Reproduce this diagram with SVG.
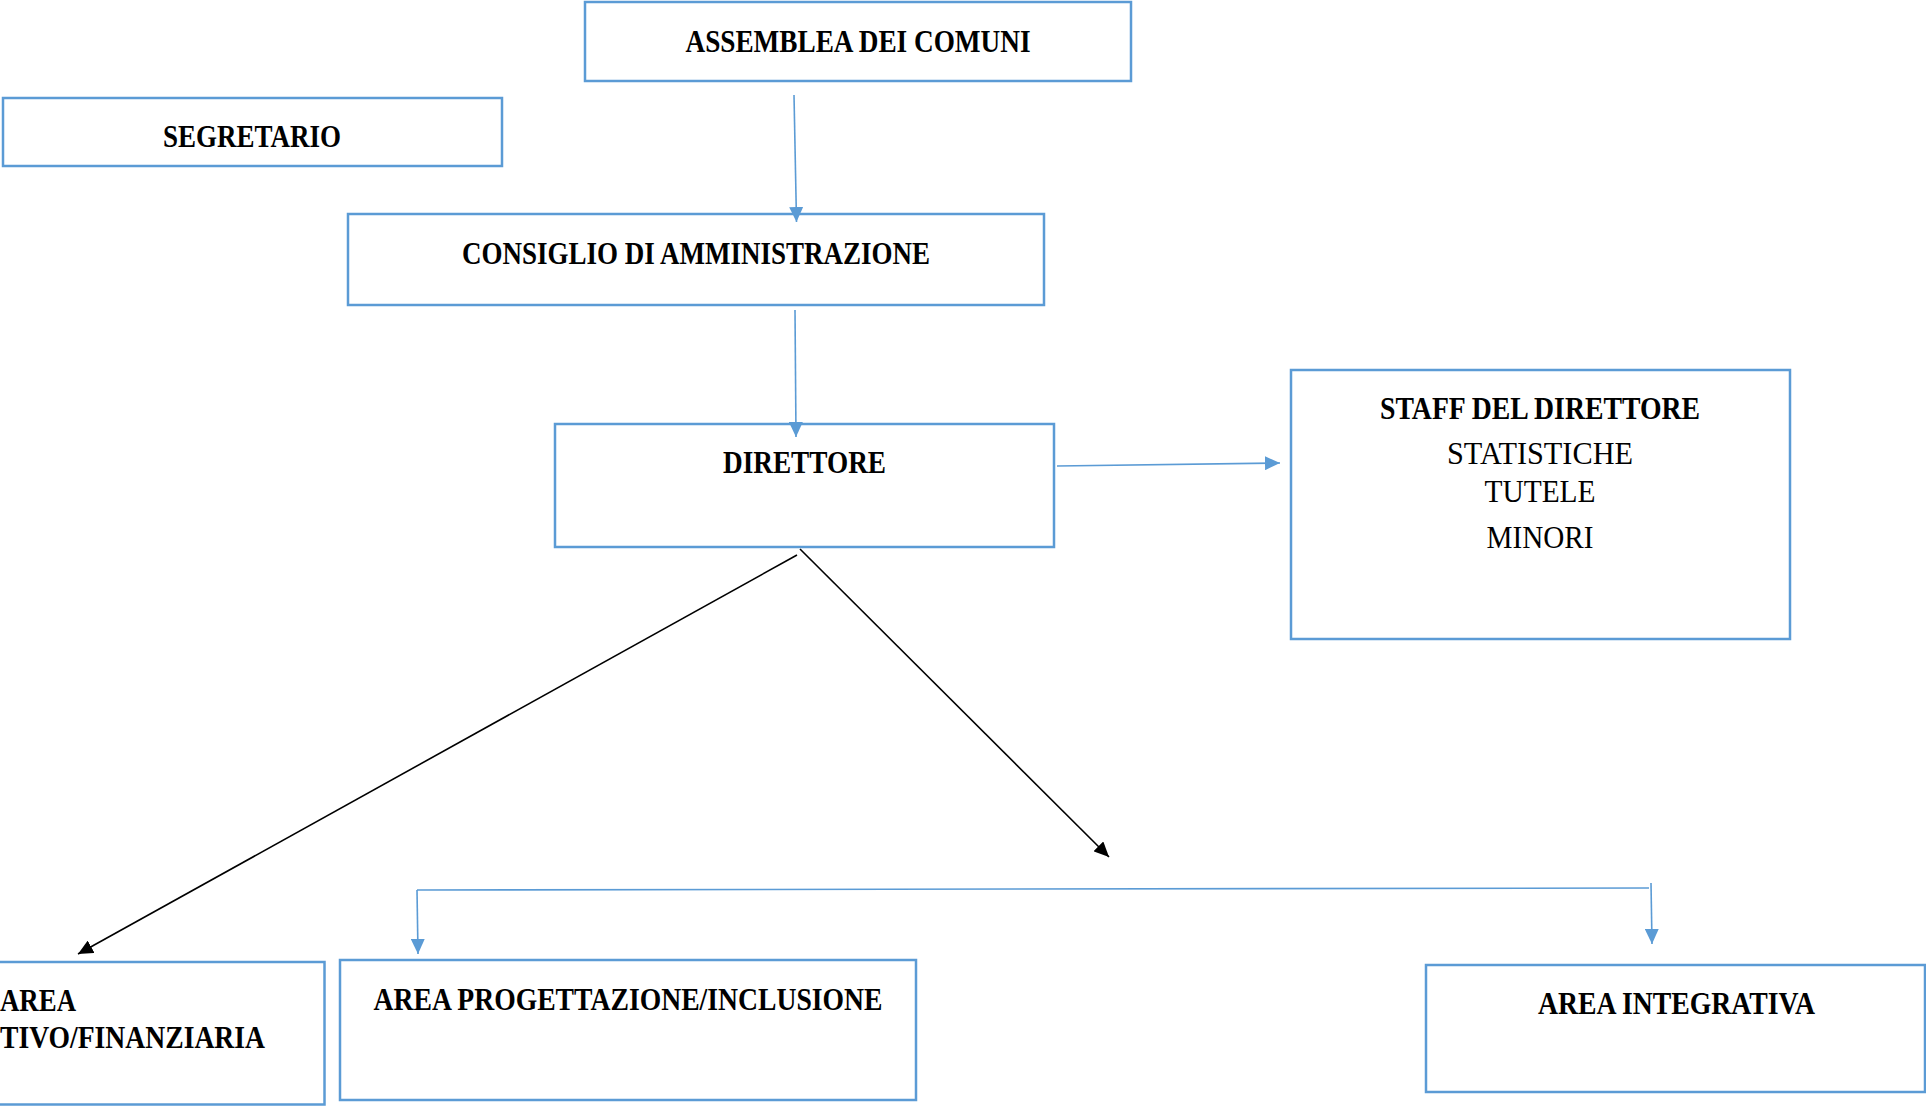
<svg xmlns="http://www.w3.org/2000/svg" width="1926" height="1106" viewBox="0 0 1926 1106">
<defs>
<style>
.box{fill:none;stroke:#5b9bd5;stroke-width:2.5}
.t{font-family:"Liberation Serif","Times New Roman",serif;font-size:31px;fill:#000;text-anchor:middle}
.b{font-weight:bold}
.tl{text-anchor:start}
.cb{stroke:#5b9bd5;stroke-width:1.6;fill:none}
.ck{stroke:#000;stroke-width:1.6;fill:none}
</style>
<marker id="ab" markerUnits="userSpaceOnUse" markerWidth="16" markerHeight="14" refX="15" refY="7" orient="auto">
<path d="M0,0 L15,7 L0,14 z" fill="#5b9bd5"/>
</marker>
<marker id="ak" markerUnits="userSpaceOnUse" markerWidth="16" markerHeight="14" refX="15" refY="7" orient="auto">
<path d="M0,0 L15,7 L0,14 z" fill="#000"/>
</marker>
</defs>
<rect width="1926" height="1106" fill="#fff"/>
<g id="assemblea">
<rect class="box" x="585" y="2" width="546" height="79"/>
<text class="t b" x="858" y="52" textLength="345" lengthAdjust="spacingAndGlyphs">ASSEMBLEA DEI COMUNI</text>
</g>
<g id="segretario">
<rect class="box" x="3" y="98" width="499" height="68"/>
<text class="t b" x="252" y="147" textLength="178" lengthAdjust="spacingAndGlyphs">SEGRETARIO</text>
</g>
<g id="consiglio">
<rect class="box" x="348" y="214" width="696" height="91"/>
<text class="t b" x="696" y="264" textLength="468" lengthAdjust="spacingAndGlyphs">CONSIGLIO DI AMMINISTRAZIONE</text>
</g>
<g id="direttore">
<rect class="box" x="555" y="424" width="499" height="123"/>
<text class="t b" x="804.5" y="473" textLength="163" lengthAdjust="spacingAndGlyphs">DIRETTORE</text>
</g>
<g id="staff">
<rect class="box" x="1291" y="370" width="499" height="269"/>
<text class="t b" x="1540" y="419" textLength="320" lengthAdjust="spacingAndGlyphs">STAFF DEL DIRETTORE</text>
<text class="t" x="1540" y="464" textLength="186" lengthAdjust="spacingAndGlyphs">STATISTICHE</text>
<text class="t" x="1540" y="501.5" textLength="111" lengthAdjust="spacingAndGlyphs">TUTELE</text>
<text class="t" x="1540" y="547.5" textLength="107" lengthAdjust="spacingAndGlyphs">MINORI</text>
</g>
<g id="area-amministrativa">
<rect class="box" x="-10" y="962" width="334.5" height="142.5"/>
<text class="t b tl" x="0" y="1010.5" textLength="76" lengthAdjust="spacingAndGlyphs">AREA</text>
<text class="t b tl" x="0" y="1048" textLength="265" lengthAdjust="spacingAndGlyphs">TIVO/FINANZIARIA</text>
</g>
<g id="area-progettazione">
<rect class="box" x="340" y="960" width="576" height="140"/>
<text class="t b" x="628" y="1010" textLength="509" lengthAdjust="spacingAndGlyphs">AREA PROGETTAZIONE/INCLUSIONE</text>
</g>
<g id="area-integrativa">
<rect class="box" x="1426" y="965" width="499" height="127"/>
<text class="t b" x="1676.5" y="1014" textLength="277" lengthAdjust="spacingAndGlyphs">AREA INTEGRATIVA</text>
</g>
<g id="connectors">
<line class="cb" x1="794" y1="95" x2="796.5" y2="222" marker-end="url(#ab)"/>
<line class="cb" x1="795" y1="310" x2="796" y2="437" marker-end="url(#ab)"/>
<line class="cb" x1="1057" y1="466" x2="1280" y2="463" marker-end="url(#ab)"/>
<line class="ck" x1="797" y1="555" x2="78" y2="954" marker-end="url(#ak)"/>
<line class="ck" x1="800" y1="549" x2="1109" y2="857" marker-end="url(#ak)"/>
<line class="cb" x1="417" y1="890" x2="1649" y2="888"/>
<line class="cb" x1="417" y1="890" x2="418" y2="954" marker-end="url(#ab)"/>
<line class="cb" x1="1651" y1="883" x2="1652" y2="944" marker-end="url(#ab)"/>
</g>
</svg>
